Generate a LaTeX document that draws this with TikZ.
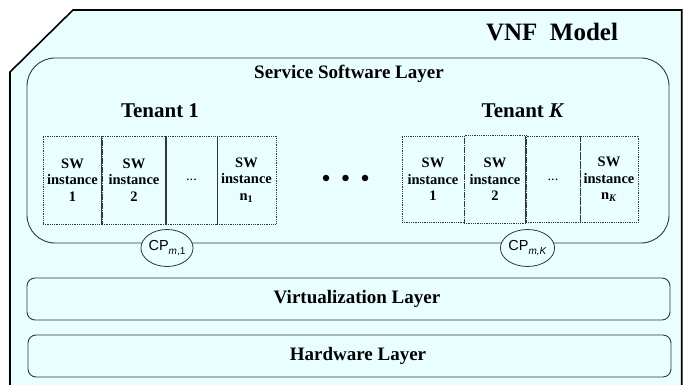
\documentclass[tikz,border=0pt]{standalone}
\usepackage{fontspec}
\setmainfont{Liberation Serif}
\newfontfamily\cpfont{Liberation Sans}
\usetikzlibrary{shapes.geometric}
\definecolor{paneback}{HTML}{E9FFFF}
\definecolor{edgegray}{HTML}{303838}
\tikzset{
  outerframe/.style={line width=1.6pt, line join=miter},
  layerbox/.style={draw=edgegray, line width=0.9pt, fill=paneback, rectangle, inner sep=0pt},
  swcell/.style={draw=edgegray, densely dotted, line width=0.8pt, rectangle, inner sep=0pt,
    minimum height=88pt, align=center, font=\bfseries\fontsize{14.5}{16.5}\selectfont},
  divider/.style={draw=edgegray, line width=0.8pt},
  cpnode/.style={ellipse, draw=edgegray, line width=0.8pt, fill=paneback, inner sep=0pt,
    minimum width=46pt, minimum height=37pt, font=\cpfont\fontsize{14.5}{14.5}\selectfont},
  bigdot/.style={circle, fill=black, inner sep=0pt, minimum size=6.5pt},
  headtext/.style={font=\bfseries\fontsize{19}{22}\selectfont, inner sep=0pt},
  tenanttext/.style={font=\bfseries\fontsize{21}{24}\selectfont, inner sep=0pt}
}
\newcommand{\cplabel}[1]{CP\raisebox{-3.5pt}{\fontsize{10}{10}\selectfont #1}}
\begin{document}
\begin{tikzpicture}[x=1pt, y=-1pt]
  \useasboundingbox (0,0) rectangle (683,385);
  % backdrop
  \fill[paneback] (8,9) rectangle (683,385);
  \fill[white] (0,0) -- (0,72) -- (9.5,72) -- (73,9) -- (683,9) -- (683,0) -- cycle;
  \fill[paneback] (10,385) -- (10,72) -- (73,10) -- (683,10) -- (683,385) -- cycle;
  % outer frame with the clipped corner
  \draw[outerframe] (10,386) -- (10,72) -- (73,10) -- (681.7,10) -- (681.7,386);

  \node[font=\bfseries\fontsize{25}{28}\selectfont, inner sep=0pt] (title) at (552,32) {VNF\ \ Model};

  % service software layer
  \node[layerbox, rounded corners=28pt, minimum width=642pt, minimum height=185pt] (ssl) at (348,150.5) {};
  \node[headtext] (ssltitle) at (349,74) {Service Software Layer};

  \node[tenanttext] (t1) at (160,111) {Tenant 1};
  \node[tenanttext] (tk) at (523,111) {Tenant \textit{K}};

  % tenant 1 instances
  \node[swcell, minimum width=59pt] (a1) at (72.5,180) {SW\\instance\\1};
  \node[swcell, minimum width=64pt] (a2) at (134,180) {SW\\instance\\2};
  \node[swcell, minimum width=51pt] (a3) at (191.5,180) {\textmd{...}};
  \node[swcell, minimum width=59pt] (a4) at (246.5,180) {SW\\instance\\n\textsubscript{1}};
  \draw[divider] (a2.north west) -- (a2.south west);
  \draw[divider] (a3.north west) -- (a3.south west);
  \draw[divider] (a3.north east) -- (a3.south east);

  % dots between tenants
  \node[bigdot] (d1) at (326,178) {};
  \node[bigdot] (d2) at (345.5,178) {};
  \node[bigdot] (d3) at (365,178) {};

  % tenant K instances
  \node[swcell, minimum width=62pt, minimum height=86pt] (b1) at (433,179.5) {SW\\instance\\1};
  \node[swcell, minimum width=62pt, minimum height=88pt] (b2) at (495,179.5) {SW\\instance\\2};
  \node[swcell, minimum width=54pt, minimum height=86pt] (b3) at (553,179.5) {\textmd{...}};
  \node[swcell, minimum width=58pt, minimum height=86pt] (b4) at (609,179.5) {SW\\instance\\n\textsubscript{\textit{K}}};
  \draw[divider] (b3.north west) -- (b3.south west);

  % connection points on the service layer border
  \node[cpnode] (cp1) at (167,248) {\cplabel{\textit{m},1}};
  \node[cpnode] (cpk) at (527.5,248) {\cplabel{\textit{m,K}}};

  % lower layers
  \node[layerbox, rounded corners=8pt, minimum width=643pt, minimum height=42pt] (virt) at (348.5,299) {};
  \node[headtext] (virttitle) at (357,299) {Virtualization Layer};
  \node[layerbox, rounded corners=8pt, minimum width=643pt, minimum height=42pt] (hw) at (349.5,356) {};
  \node[headtext] (hwtitle) at (358,356) {Hardware Layer};
\end{tikzpicture}
\end{document}
